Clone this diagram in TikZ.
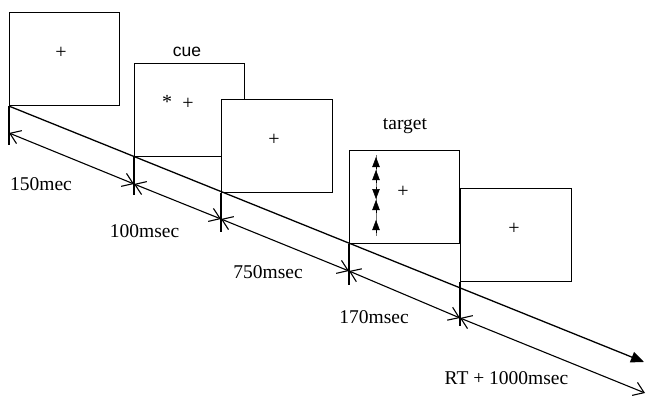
\documentclass[tikz,border=0pt]{standalone}
\usepackage{fontspec}
\setmainfont{Liberation Serif}
\newfontfamily\arialf{Liberation Sans}
\newfontfamily\timesf{Liberation Serif}
\usetikzlibrary{arrows.meta}
\begin{document}
\begin{tikzpicture}[x=1pt,y=-1pt,
  screen/.style={draw, fill=white, line width=1.1pt, minimum width=110pt, minimum height=93pt, inner sep=0pt, anchor=north west},
  lbl/.style={font=\timesf\fontsize{19.5}{20}\selectfont, inner sep=0pt, anchor=base},
  sym/.style={font=\timesf\fontsize{20}{21}\selectfont, inner sep=0pt},
  tickline/.style={line width=1.1pt},
  mainline/.style={line width=1.3pt, -{Triangle[length=13pt,width=11pt]}},
  spanline/.style={line width=1.1pt, {Straight Barb[length=10pt,width=14pt]}-{Straight Barb[length=10pt,width=14pt]}},
  flank/.style={-{Triangle[length=10pt,width=7.5pt]}, line width=0.5pt, draw=black}]
\useasboundingbox (0,0) rectangle (646,399);
% screens
\node[screen] (b1) at (9,12) {};
\node[screen] (b2) at (134,63) {};
\node[screen, minimum width=111pt] (b3) at (221,99) {};
\node[screen] (b4) at (349,150) {};
\node[screen, minimum width=111pt] (b5) at (460,188) {};
% screen contents
\node[sym] (p1) at (61,53) {+};
\node[sym] (st2) at (167,102) {*};
\node[sym] (p2) at (188,104) {+};
\node[sym] (p3) at (274,140) {+};
\node[sym] (p4) at (403,192) {+};
\node[sym] (p5) at (514,229) {+};
% flanker arrows
\draw[line width=0.5pt, draw=black!55] (376,155) -- (376,236);
\draw[flank] (376,169) -- (376,157);
\draw[flank] (376,183) -- (376,170);
\draw[flank] (376,187) -- (376,199);
\draw[flank] (376,213) -- (376,200);
\draw[flank] (376,233) -- (376,220);
% titles
\node[font=\arialf\fontsize{17.5}{18}\selectfont, inner sep=0pt, anchor=base] (cue) at (187,56) {cue};
\node[lbl] (tg) at (405,129) {target};
% main time axis
\coordinate (axend) at (644,362);
\draw[mainline] (b1.south west) -- (axend);
% ticks
\coordinate (k1) at (9,145);
\coordinate (k2) at (134,195);
\coordinate (k3) at (221,232);
\coordinate (k4) at (349,285);
\coordinate (k5) at (460,326);
\draw[tickline] (b1.south west) -- (k1);
\draw[tickline] (b2.south west) -- (k2);
\draw[tickline] (b3.south west) -- (k3);
\draw[tickline] (b4.south west) -- (k4);
\draw[tickline] (b5.south west) -- (k5);
% spans
\coordinate (s1) at (9,133);
\coordinate (s2) at (134,184);
\coordinate (s3) at (221,219);
\coordinate (s4) at (349,271);
\coordinate (s5) at (460,318);
\coordinate (s6) at (645,393);
\draw[spanline] (s1) -- (s2);
\draw[spanline] (s2) -- (s3);
\draw[spanline] (s3) -- (s4);
\draw[spanline] (s4) -- (s5);
\draw[spanline] (s5) -- (s6);
% labels
\node[lbl] (l1) at (41,190) {150mec};
\node[lbl] (l2) at (144.5,237) {100msec};
\node[lbl] (l3) at (268,278) {750msec};
\node[lbl] (l4) at (374,323) {170msec};
\node[lbl] (l5) at (506.5,384) {RT + 1000msec};
\end{tikzpicture}
\end{document}
